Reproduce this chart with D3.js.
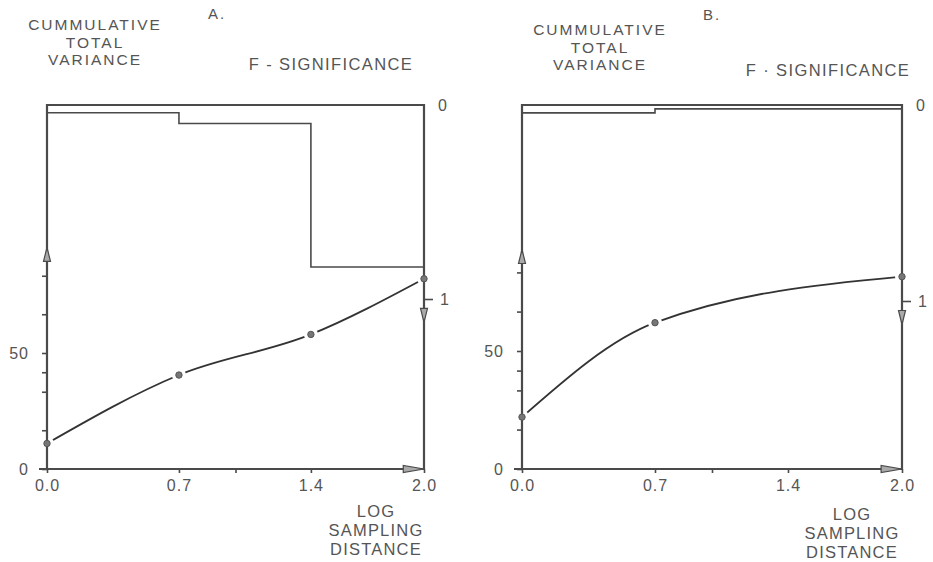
<!DOCTYPE html>
<html>
<head>
<meta charset="utf-8">
<script src="https://cdn.jsdelivr.net/npm/d3@7"></script>
<style>
  body { margin: 0; background: #fff; }
  svg text { font-family: "Liberation Sans", Arial, sans-serif; fill: #555; }
</style>
</head>
<body>
<svg id="chart" width="933" height="562"></svg>
<script>
// chart values

const logDistA = [0.0, 0.7, 1.4, 2.0];
const varianceA = [11, 40.5, 58, 82];
const stepEdgesA = [0.0, 0.7, 1.4, 2.0];
const fSigA = [0.04, 0.095, 0.835];

const logDistB = [0.0, 0.7, 2.0];
const varianceB = [22, 62, 81.5];
const stepEdgesB = [0.0, 0.7, 2.0];
const fSigB = [0.04, 0.02];

const xTicks = [0.0, 0.7, 1.0, 1.4, 2.0];
const xTickLabels = ["0.0", "0.7", "", "1.4", "2.0"];
const yTicks = [0, 16.7, 33.3, 41.7, 50, 66.7, 83.3];
const yTickLabels = { 0: "0", 50: "50" };
const fTicks = [0, 1];

const svg = d3.select("#chart");
const ink = "#4a4a4a";

function drawPanel(p) {
    const x = d3.scaleLinear().domain([0, 2]).range([p.left, p.right]);
    const y = d3.scaleLinear().domain([0, 100]).range([p.bottom, p.y100]);
    const f = d3.scaleLinear().domain([0, 1]).range([p.top, p.f1]);
    const g = svg.append("g");

    // F-significance steps hanging from the top edge
    const stepPts = p.fSig.map((v, i) => [p.edges[i], v]);
    stepPts.push([p.edges[p.edges.length - 1], p.fSig[p.fSig.length - 1]]);
    g.append("path")
        .attr("d", d3.line().x(d => x(d[0])).y(d => f(d[1])).curve(d3.curveStepAfter)(stepPts))
        .attr("fill", "none").attr("stroke", ink).attr("stroke-width", 1.6);

    // variance curve
    const pts = p.xs.map((v, i) => [v, p.vals[i]]);
    g.append("path")
        .attr("d", d3.line().x(d => x(d[0])).y(d => y(d[1])).curve(d3.curveMonotoneX)(pts))
        .attr("fill", "none").attr("stroke", "#333").attr("stroke-width", 1.8);
    // gap around markers
    g.selectAll("circle.halo").data(pts).enter().append("circle")
        .attr("class", "halo")
        .attr("cx", d => x(d[0])).attr("cy", d => y(d[1])).attr("r", 7).attr("fill", "#fff");

    // frame: top edge, left and right axes, bottom axis
    g.append("path")
        .attr("d", `M${x(0)},${p.bottom}V${p.top}H${x(2)}V${p.bottom}`)
        .attr("fill", "none").attr("stroke", ink).attr("stroke-width", 2.2);
    g.append("line")
        .attr("x1", x(0) - 8).attr("x2", x(2))
        .attr("y1", y(0)).attr("y2", y(0))
        .attr("stroke", ink).attr("stroke-width", 2.2);

    // arrow heads
    const arrow = (pts) => g.append("path")
        .attr("d", "M" + pts.map(q => q.join(",")).join("L") + "Z")
        .attr("fill", "#aaa").attr("stroke", ink).attr("stroke-width", 1.2);
    arrow([[x(0), y(p.upTip)], [x(0) - 3.5, y(p.upTip) + 14], [x(0) + 3.5, y(p.upTip) + 14]]);
    arrow([[x(2), f(1.12)], [x(2) - 3.5, f(1.12) - 14], [x(2) + 3.5, f(1.12) - 14]]);
    arrow([[x(2), y(0)], [x(1.89), y(0) - 3.5], [x(1.89), y(0) + 3.5]]);

    // markers
    g.selectAll("circle.dot").data(pts).enter().append("circle")
        .attr("class", "dot")
        .attr("cx", d => x(d[0])).attr("cy", d => y(d[1])).attr("r", 3.2)
        .attr("fill", "#777").attr("stroke", "#555").attr("stroke-width", 1);

    // axes (ticks + labels only)
    const xAxis = g.append("g").attr("transform", `translate(0,${p.bottom})`)
        .call(d3.axisBottom(x).tickValues(xTicks).tickSize(4).tickPadding(7)
            .tickFormat((d, i) => xTickLabels[i]));
    const yAxis = g.append("g").attr("transform", `translate(${p.left},0)`)
        .call(d3.axisLeft(y).tickValues(yTicks).tickSize(5).tickPadding(13)
            .tickFormat(d => yTickLabels[d] || ""));
    const fAxis = g.append("g").attr("transform", `translate(${p.right},0)`)
        .call(d3.axisRight(f).tickValues(fTicks).tickSize(9).tickPadding(7)
            .tickFormat(d3.format("d")));
    fAxis.selectAll(".tick").filter(d => d === 0).select("line").remove();
    fAxis.selectAll(".tick").filter(d => d === 0).select("text").attr("x", 14);

    [xAxis, yAxis, fAxis].forEach(a => {
        a.select(".domain").remove();
        a.selectAll(".tick line").attr("stroke", ink).attr("stroke-width", 1.6);
        a.selectAll("text").style("font-size", "16px").style("letter-spacing", "1px")
            .attr("fill", "#555");
    });

    // titles
    g.append("text").attr("x", p.letterX).attr("y", p.letterY)
        .style("font-size", "15px").style("letter-spacing", "2px").text(p.letter);

    const yTitle = ["CUMMULATIVE", "TOTAL", "VARIANCE"];
    g.selectAll("text.ytitle").data(yTitle).enter().append("text")
        .attr("class", "ytitle")
        .attr("x", p.yTitleX).attr("y", (d, i) => p.yTitleY + i * 17.5)
        .attr("text-anchor", "middle")
        .style("font-size", "15.5px").style("letter-spacing", "2px")
        .text(d => d);

    g.append("text").attr("x", p.fTitleX).attr("y", p.fTitleY)
        .attr("text-anchor", "middle")
        .style("font-size", "16.5px").style("letter-spacing", "1.4px")
        .text(p.fTitle);

    const xTitle = ["LOG", "SAMPLING", "DISTANCE"];
    g.selectAll("text.xtitle").data(xTitle).enter().append("text")
        .attr("class", "xtitle")
        .attr("x", p.xTitleX).attr("y", (d, i) => p.xTitleY + i * 19)
        .attr("text-anchor", "middle")
        .style("font-size", "16.5px").style("letter-spacing", "1.2px")
        .text(d => d);
}

drawPanel({
    left: 47, right: 424, top: 105, bottom: 469, y100: 237, f1: 299,
    xs: logDistA, vals: varianceA, edges: stepEdgesA, fSig: fSigA,
    upTip: 95.5,
    letter: "A.", letterX: 208, letterY: 19,
    yTitleX: 95, yTitleY: 30,
    fTitle: "F - SIGNIFICANCE", fTitleX: 331, fTitleY: 70,
    xTitleX: 376, xTitleY: 517
});

drawPanel({
    left: 522, right: 902, top: 105, bottom: 469, y100: 233, f1: 301,
    xs: logDistB, vals: varianceB, edges: stepEdgesB, fSig: fSigB,
    upTip: 93,
    letter: "B.", letterX: 703, letterY: 20,
    yTitleX: 600, yTitleY: 35,
    fTitle: "F · SIGNIFICANCE", fTitleX: 828, fTitleY: 76,
    xTitleX: 852, xTitleY: 520
});
</script>
</body>
</html>
